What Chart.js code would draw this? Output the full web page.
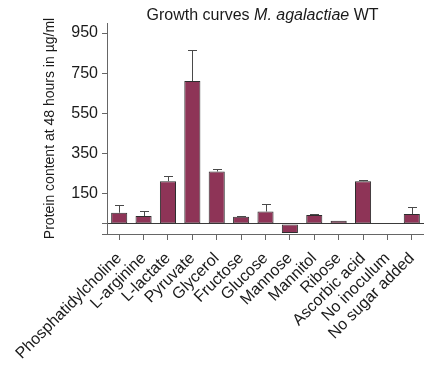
<!DOCTYPE html>
<html>
<head>
<meta charset="utf-8">
<script src="https://cdn.jsdelivr.net/npm/chart.js@4.4.1/dist/chart.umd.min.js"></script>
<style>
  html, body { margin: 0; padding: 0; background: #fff; }
  #wrap { width: 424px; height: 367px; position: relative; }
</style>
</head>
<body>
<div id="wrap"><canvas id="c"></canvas></div>
<script>
// Carbon sources tested
const categories = [
  'Phosphatidylcholine', 'L-arginine', 'L-lactate', 'Pyruvate', 'Glycerol',
  'Fructose', 'Glucose', 'Mannose', 'Mannitol', 'Ribose',
  'Ascorbic acid', 'No inoculum', 'No sugar added'
];
// Mean protein content at 48 h (µg/ml) and standard deviation
const proteinMean = [56, 39, 213, 711, 261, 36, 62, -45, 44, 16, 213, 0, 49];
const proteinSD   = [37, 23, 25, 157, 10, 3, 38, 0, 5, 0, 8, 0, 35];
// Y axis tick positions and the ones that carry a label
const yTickValues = [-50, 0, 150, 350, 550, 750, 950];
const yLabelledTicks = [150, 350, 550, 750, 950];

const titleParts = [
  { text: 'Growth curves ', style: 'normal' },
  { text: 'M. agalactiae', style: 'italic' },
  { text: ' WT', style: 'normal' }
];

const FONT = "'Liberation Sans', Arial, sans-serif";

// Upward error whiskers with a cap
const errorBars = {
  id: 'errorBars',
  afterDatasetsDraw(chart) {
    const meta = chart.getDatasetMeta(0);
    const y = chart.scales.y;
    const ctx = chart.ctx;
    ctx.save();
    ctx.strokeStyle = '#4a4a4a';
    ctx.lineWidth = 1;
    meta.data.forEach((bar, i) => {
      const m = proteinMean[i], sd = proteinSD[i];
      if (!sd || m <= 0) return;
      const x = Math.round(bar.x) + 0.5;
      const y0 = y.getPixelForValue(m);
      const y1 = Math.round(y.getPixelForValue(m + sd)) + 0.5;
      ctx.beginPath();
      ctx.moveTo(x, y0);
      ctx.lineTo(x, y1);
      ctx.moveTo(x - 4.5, y1);
      ctx.lineTo(x + 4.5, y1);
      ctx.stroke();
    });
    ctx.restore();
  }
};

// Title with an italic species name
const mixedTitle = {
  id: 'mixedTitle',
  afterDraw(chart) {
    const ctx = chart.ctx;
    const area = chart.chartArea;
    ctx.save();
    ctx.fillStyle = '#1a1a1a';
    ctx.textBaseline = 'alphabetic';
    let total = 0;
    titleParts.forEach(p => {
      ctx.font = (p.style === 'italic' ? 'italic ' : '') + '16px ' + FONT;
      p.w = ctx.measureText(p.text).width;
      total += p.w;
    });
    let x = (area.left + area.right) / 2 - 3 - total / 2;
    titleParts.forEach(p => {
      ctx.font = (p.style === 'italic' ? 'italic ' : '') + '16px ' + FONT;
      ctx.fillText(p.text, x, 19.5);
      x += p.w;
    });
    ctx.restore();
  }
};

new Chart(document.getElementById('c'), {
  type: 'bar',
  data: {
    labels: categories,
    datasets: [{
      data: proteinMean,
      backgroundColor: '#8e3457',
      borderColor: '#2e2e2e',
      borderWidth: 1,
      borderSkipped: false,
      barPercentage: 0.66,
      categoryPercentage: 1.0
    }]
  },
  options: {
    responsive: true,
    maintainAspectRatio: false,
    animation: false,
    layout: { padding: { top: 23, right: 0, left: 0, bottom: 0 } },
    plugins: {
      legend: { display: false },
      title: { display: false },
      tooltip: { enabled: false }
    },
    scales: {
      x: {
        offset: true,
        grid: {
          offset: false,
          drawOnChartArea: false,
          tickLength: 6,
          tickColor: '#666'
        },
        border: { color: '#666', width: 1 },
        ticks: {
          autoSkip: false,
          minRotation: 45,
          maxRotation: 45,
          padding: 9,
          color: '#1a1a1a',
          font: { family: FONT, size: 16 }
        },
        afterFit(scale) {
          scale.height = 133;
          scale.paddingRight = 0;
          scale.paddingLeft = 0;
        }
      },
      y: {
        min: -50,
        max: 1000,
        afterBuildTicks(scale) {
          scale.ticks = yTickValues.map(v => ({ value: v }));
        },
        grid: {
          color: ctx => (ctx.tick && ctx.tick.value === 0) ? '#3a3a3a' : 'rgba(0,0,0,0)',
          tickColor: '#666',
          tickLength: 5
        },
        border: { color: '#666', width: 1 },
        ticks: {
          padding: 4,
          color: '#1a1a1a',
          font: { family: FONT, size: 16 },
          callback: v => yLabelledTicks.includes(v) ? String(v) : ''
        },
        title: {
          display: true,
          text: 'Protein content at 48 hours in µg/ml',
          color: '#1a1a1a',
          font: { family: FONT, size: 14 },
          padding: { top: 42, bottom: 0 }
        },
        afterFit(scale) { scale.width = 107; }
      }
    }
  },
  plugins: [errorBars, mixedTitle]
});
</script>
</body>
</html>
